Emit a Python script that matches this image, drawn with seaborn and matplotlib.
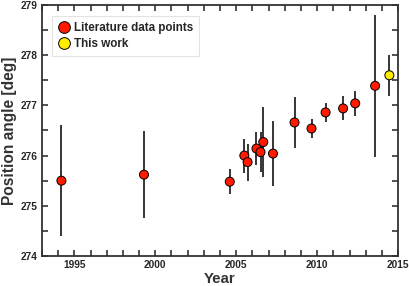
import numpy as np
import pandas as pd
import matplotlib
matplotlib.use("Agg")
import matplotlib.pyplot as plt
import seaborn as sns
from matplotlib.ticker import MultipleLocator

# literature values (year, position angle, error)
lit_year = [1994.2, 1999.3, 2004.6, 2005.5, 2005.7, 2006.25, 2006.5, 2006.67, 2007.27,
            2008.6, 2009.65, 2010.52, 2011.6, 2012.35, 2013.58]
lit_pa = [275.5, 275.62, 275.48, 276.0, 275.87, 276.14, 276.07, 276.27, 276.04,
          276.66, 276.54, 276.86, 276.94, 277.04, 277.39]
lit_err = [1.1, 0.87, 0.25, 0.34, 0.37, 0.33, 0.4, 0.69, 0.64,
           0.51, 0.18, 0.19, 0.24, 0.25, 1.41]
# this work
new_year = [2014.46]
new_pa = [277.6]
new_err = [0.41]

df = pd.DataFrame({
    "Year": lit_year + new_year,
    "PA": lit_pa + new_pa,
    "err": lit_err + new_err,
    "src": ["Literature data points"] * len(lit_year) + ["This work"] * len(new_year),
})

sns.set_style("ticks")
plt.rcParams["font.family"] = ["Liberation Sans", "DejaVu Sans"]
plt.rcParams["font.weight"] = "bold"

fig = plt.figure(figsize=(4.1, 2.86), dpi=100)
ax = fig.add_axes([0.1024, 0.105, 0.8686, 0.8775])

#error bars first, then the dots on top
ax.errorbar(df["Year"], df["PA"], yerr=df["err"], fmt="none", ecolor="black",
            elinewidth=1.1, capsize=0, zorder=2)
sns.scatterplot(data=df, x="Year", y="PA", hue="src",
                palette={"Literature data points": "#ff1a00", "This work": "#ffee00"},
                s=42, edgecolor="black", linewidth=0.7, zorder=3, ax=ax)

ax.set_xlim(1993, 2015)
ax.set_ylim(274, 279)
ax.xaxis.set_major_locator(MultipleLocator(5))
ax.xaxis.set_minor_locator(MultipleLocator(1))
ax.yaxis.set_major_locator(MultipleLocator(1))
ax.yaxis.set_minor_locator(MultipleLocator(0.5))
ax.tick_params(which="both", direction="in", top=True, right=True, width=1.2,
               color="#333333", labelsize=7.3, pad=3)
ax.tick_params(which="major", length=4)
ax.tick_params(which="minor", length=4)
for s in ax.spines.values():
    s.set_linewidth(1.3)
    s.set_color("#333333")
for lab in ax.get_xticklabels() + ax.get_yticklabels():
    lab.set_fontweight("bold")

ax.set_xlabel("Year", fontsize=10.8, fontweight="bold", color="#333333", labelpad=1)
ax.set_ylabel("Position angle [deg]", fontsize=11.2, fontweight="bold", color="#333333", labelpad=3)

leg = ax.legend(loc="upper left", fontsize=8.4, frameon=True, fancybox=False,
                borderpad=0.5, handletextpad=0.3, labelspacing=0.4, markerscale=1.3,
                handlelength=1.1, bbox_to_anchor=(0.012, 0.98))
leg.get_frame().set_edgecolor("#dddddd")
leg.get_frame().set_linewidth(0.8)
for t in leg.get_texts():
    t.set_fontweight("bold")

fig.savefig("out.png", dpi=100)
